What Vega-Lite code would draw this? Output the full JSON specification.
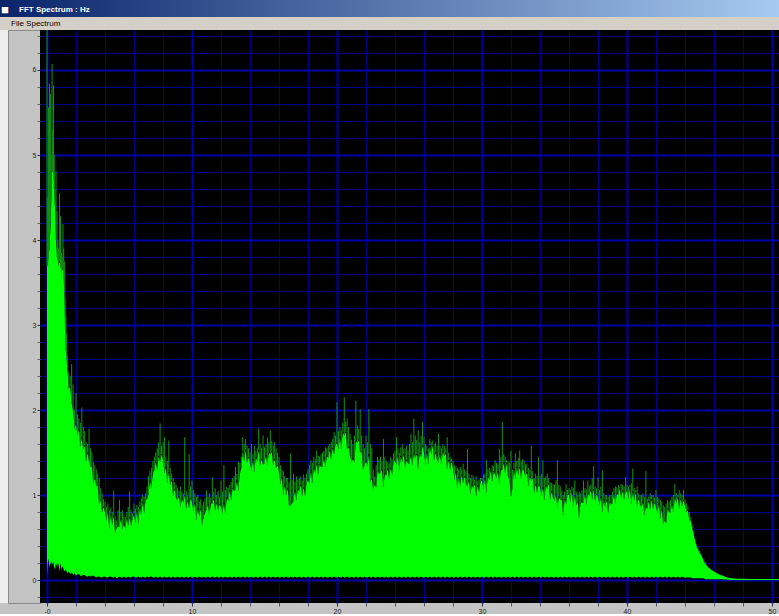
{
"$schema": "https://vega.github.io/schema/vega-lite/v6.json",
"background": "#c4c4c4",
"padding": 0,
"spacing": 0,
"bounds": "flush",
"config": {"view": {"stroke": null}, "font": "Liberation Sans"},
"vconcat": [
{
"width": 779, "height": 17,
"view": {"stroke": null, "fill": {"gradient": "linear", "x1": 0, "y1": 0, "x2": 1, "y2": 0, "stops": [{"offset": 0, "color": "#0a246a"}, {"offset": 1, "color": "#a6caf0"}]}},
"data": {"values": [{"t": "FFT Spectrum : Hz"}]},
"layer": [
{"mark": {"type": "text", "text": "■", "align": "left", "baseline": "alphabetic", "color": "#ffffff", "fontSize": 13},
"encoding": {"x": {"value": 1}, "y": {"value": 14}}},
{"mark": {"type": "text", "align": "left", "baseline": "alphabetic", "color": "#ffffff", "fontSize": 8, "fontWeight": "bold", "font": "Liberation Sans"},
"encoding": {"text": {"field": "t"}, "x": {"value": 19}, "y": {"value": 12}}}
]
},
{
"width": 779, "height": 13,
"view": {"stroke": null, "fill": "#d4d0c8"},
"data": {"values": [{"t": "File  Spectrum"}]},
"mark": {"type": "text", "align": "left", "baseline": "alphabetic", "color": "#000000", "fontSize": 8, "font": "Liberation Sans"},
"encoding": {"text": {"field": "t"}, "x": {"value": 11}, "y": {"value": 9}}
},
{
"spacing": 0,
"bounds": "flush",
"hconcat": [
{
"width": 8, "height": 573,
"view": {"stroke": null, "fill": "#eeeeee"},
"data": {"values": [{}]},
"mark": {"type": "point", "opacity": 0}
},
{
"width": 32, "height": 573,
"view": {"stroke": "#8a8a8a", "fill": "#c4c4c4"},
"data": {"values": [{}]},
"mark": {"type": "point", "opacity": 0}
},
{
"width": 739, "height": 573,
"view": {"fill": "#000000", "stroke": null},
"data": {"values": [
{"f":0,"h":7.5,"m":3.7,"l":0.05},
{"f":0.05,"h":4.5,"m":3.7,"l":0.2},
{"f":0.1,"h":5.56,"m":3.8,"l":0.25},
{"f":0.17,"h":5.84,"m":3.9,"l":0.15},
{"f":0.25,"h":5.72,"m":4.2,"l":0.2},
{"f":0.3,"h":5.0,"m":4.5,"l":0.22},
{"f":0.35,"h":6.07,"m":4.8,"l":0.18},
{"f":0.4,"h":5.3,"m":4.8,"l":0.2},
{"f":0.45,"h":5.82,"m":4.8,"l":0.22},
{"f":0.5,"h":5.0,"m":4.6,"l":0.15},
{"f":0.55,"h":4.6,"m":4.4,"l":0.12},
{"f":0.62,"h":4.81,"m":4.0,"l":0.2},
{"f":0.7,"h":4.34,"m":3.8,"l":0.15},
{"f":0.75,"h":4.0,"m":3.75,"l":0.2},
{"f":0.8,"h":3.9,"m":3.7,"l":0.18},
{"f":0.87,"h":4.55,"m":3.75,"l":0.1},
{"f":0.93,"h":4.28,"m":3.7,"l":0.2},
{"f":1.0,"h":3.85,"m":3.6,"l":0.12},
{"f":1.05,"h":3.8,"m":3.65,"l":0.15},
{"f":1.1,"h":4.19,"m":3.65,"l":0.16},
{"f":1.15,"h":3.9,"m":3.55,"l":0.12},
{"f":1.2,"h":3.75,"m":3.4,"l":0.1},
{"f":1.25,"h":3.3,"m":3.0,"l":0.12},
{"f":1.3,"h":3.1,"m":2.7,"l":0.12},
{"f":1.35,"h":2.9,"m":2.6,"l":0.1},
{"f":1.4,"h":2.64,"m":2.5,"l":0.08},
{"f":1.5,"h":2.45,"m":2.25,"l":0.1},
{"f":1.6,"h":2.4,"m":2.28,"l":0.07},
{"f":1.7,"h":2.54,"m":2.08,"l":0.09},
{"f":1.8,"h":2.3,"m":2.0,"l":0.06},
{"f":1.9,"h":2.0,"m":1.78,"l":0.08},
{"f":2.0,"h":2.2,"m":1.84,"l":0.05},
{"f":2.1,"h":1.95,"m":1.7,"l":0.07},
{"f":2.2,"h":1.9,"m":1.77,"l":0.07},
{"f":2.3,"h":1.85,"m":1.57,"l":0.05},
{"f":2.4,"h":2.03,"m":1.68,"l":0.05},
{"f":2.5,"h":1.8,"m":1.53,"l":0.06},
{"f":2.6,"h":1.75,"m":1.58,"l":0.06},
{"f":2.7,"h":1.62,"m":1.4,"l":0.04},
{"f":2.8,"h":1.6,"m":1.5,"l":0.04},
{"f":2.9,"h":1.78,"m":1.4,"l":0.05},
{"f":3.0,"h":1.55,"m":1.33,"l":0.04},
{"f":3.1,"h":1.5,"m":1.34,"l":0.05},
{"f":3.2,"h":1.39,"m":1.13,"l":0.05},
{"f":3.3,"h":1.35,"m":1.2,"l":0.04},
{"f":3.4,"h":1.3,"m":1.11,"l":0.03},
{"f":3.5,"h":1.25,"m":1.11,"l":0.04},
{"f":3.6,"h":1.2,"m":0.9,"l":0.04},
{"f":3.7,"h":1.08,"m":0.94,"l":0.03},
{"f":3.8,"h":1.02,"m":0.8,"l":0.03},
{"f":3.9,"h":0.95,"m":0.86,"l":0.04},
{"f":4.0,"h":0.92,"m":0.8,"l":0.04},
{"f":4.1,"h":0.86,"m":0.7,"l":0.03},
{"f":4.2,"h":0.9,"m":0.81,"l":0.03},
{"f":4.3,"h":0.82,"m":0.6,"l":0.04},
{"f":4.4,"h":0.85,"m":0.78,"l":0.04},
{"f":4.5,"h":0.8,"m":0.65,"l":0.03},
{"f":4.6,"h":1.05,"m":0.76,"l":0.03},
{"f":4.7,"h":0.76,"m":0.56,"l":0.04},
{"f":4.8,"h":0.7,"m":0.61,"l":0.02},
{"f":4.9,"h":0.82,"m":0.63,"l":0.03},
{"f":5.0,"h":0.94,"m":0.63,"l":0.04},
{"f":5.1,"h":0.8,"m":0.73,"l":0.03},
{"f":5.2,"h":0.82,"m":0.6,"l":0.03},
{"f":5.3,"h":0.76,"m":0.66,"l":0.04},
{"f":5.4,"h":0.74,"m":0.61,"l":0.03},
{"f":5.5,"h":0.8,"m":0.73,"l":0.03},
{"f":5.6,"h":0.86,"m":0.64,"l":0.04},
{"f":5.7,"h":1.04,"m":0.74,"l":0.03},
{"f":5.8,"h":0.82,"m":0.64,"l":0.03},
{"f":5.9,"h":0.78,"m":0.72,"l":0.04},
{"f":6.0,"h":0.9,"m":0.77,"l":0.04},
{"f":6.1,"h":0.84,"m":0.67,"l":0.03},
{"f":6.2,"h":0.88,"m":0.82,"l":0.03},
{"f":6.3,"h":0.86,"m":0.66,"l":0.04},
{"f":6.4,"h":0.92,"m":0.86,"l":0.03},
{"f":6.5,"h":0.96,"m":0.77,"l":0.03},
{"f":6.6,"h":1.0,"m":0.92,"l":0.04},
{"f":6.7,"h":0.98,"m":0.79,"l":0.03},
{"f":6.8,"h":1.02,"m":0.94,"l":0.03},
{"f":6.9,"h":1.1,"m":0.95,"l":0.04},
{"f":7.0,"h":1.22,"m":1.01,"l":0.03},
{"f":7.1,"h":1.28,"m":1.17,"l":0.04},
{"f":7.2,"h":1.32,"m":1.08,"l":0.04},
{"f":7.3,"h":1.4,"m":1.26,"l":0.03},
{"f":7.4,"h":1.45,"m":1.29,"l":0.03},
{"f":7.5,"h":1.5,"m":1.39,"l":0.04},
{"f":7.6,"h":1.55,"m":1.3,"l":0.03},
{"f":7.7,"h":1.62,"m":1.46,"l":0.03},
{"f":7.8,"h":1.84,"m":1.39,"l":0.04},
{"f":7.9,"h":1.58,"m":1.48,"l":0.03},
{"f":8.0,"h":1.62,"m":1.42,"l":0.03},
{"f":8.1,"h":1.68,"m":1.26,"l":0.04},
{"f":8.2,"h":1.45,"m":1.33,"l":0.03},
{"f":8.3,"h":1.4,"m":1.14,"l":0.03},
{"f":8.4,"h":1.64,"m":1.27,"l":0.04},
{"f":8.5,"h":1.32,"m":1.12,"l":0.03},
{"f":8.6,"h":1.25,"m":1.17,"l":0.03},
{"f":8.7,"h":1.2,"m":0.99,"l":0.04},
{"f":8.8,"h":1.15,"m":1.07,"l":0.03},
{"f":8.9,"h":1.12,"m":0.97,"l":0.03},
{"f":9.0,"h":1.08,"m":0.93,"l":0.04},
{"f":9.1,"h":1.05,"m":0.99,"l":0.03},
{"f":9.2,"h":1.1,"m":0.86,"l":0.03},
{"f":9.3,"h":1.04,"m":0.96,"l":0.04},
{"f":9.4,"h":1.02,"m":0.91,"l":0.03},
{"f":9.5,"h":1.68,"m":1.0,"l":0.03},
{"f":9.6,"h":1.05,"m":0.84,"l":0.04},
{"f":9.7,"h":1.0,"m":0.93,"l":0.03},
{"f":9.8,"h":1.48,"m":0.85,"l":0.03},
{"f":9.9,"h":1.1,"m":0.96,"l":0.04},
{"f":10.0,"h":1.17,"m":0.92,"l":0.03},
{"f":10.1,"h":1.06,"m":0.81,"l":0.03},
{"f":10.2,"h":1.02,"m":0.91,"l":0.04},
{"f":10.3,"h":0.98,"m":0.71,"l":0.03},
{"f":10.4,"h":1.0,"m":0.84,"l":0.03},
{"f":10.5,"h":0.92,"m":0.75,"l":0.04},
{"f":10.6,"h":0.95,"m":0.84,"l":0.03},
{"f":10.7,"h":0.88,"m":0.65,"l":0.03},
{"f":10.8,"h":0.92,"m":0.74,"l":0.04},
{"f":10.9,"h":0.96,"m":0.79,"l":0.03},
{"f":11.0,"h":1.05,"m":0.83,"l":0.03},
{"f":11.1,"h":0.98,"m":0.89,"l":0.04},
{"f":11.2,"h":1.02,"m":0.76,"l":0.03},
{"f":11.3,"h":0.97,"m":0.9,"l":0.03},
{"f":11.4,"h":1.21,"m":0.9,"l":0.04},
{"f":11.5,"h":1.04,"m":0.95,"l":0.03},
{"f":11.6,"h":1.08,"m":0.82,"l":0.03},
{"f":11.7,"h":1.0,"m":0.91,"l":0.04},
{"f":11.8,"h":1.05,"m":0.82,"l":0.03},
{"f":11.9,"h":0.98,"m":0.89,"l":0.03},
{"f":12.0,"h":1.17,"m":0.86,"l":0.04},
{"f":12.1,"h":1.04,"m":0.79,"l":0.03},
{"f":12.2,"h":1.35,"m":0.91,"l":0.03},
{"f":12.3,"h":1.06,"m":0.78,"l":0.04},
{"f":12.4,"h":1.1,"m":0.97,"l":0.03},
{"f":12.5,"h":1.08,"m":0.93,"l":0.03},
{"f":12.6,"h":1.12,"m":1.06,"l":0.04},
{"f":12.7,"h":1.15,"m":0.94,"l":0.03},
{"f":12.8,"h":1.2,"m":1.08,"l":0.03},
{"f":12.9,"h":1.22,"m":1.05,"l":0.04},
{"f":13.0,"h":1.33,"m":1.06,"l":0.03},
{"f":13.1,"h":1.25,"m":1.17,"l":0.03},
{"f":13.2,"h":1.39,"m":1.05,"l":0.04},
{"f":13.3,"h":1.38,"m":1.26,"l":0.03},
{"f":13.4,"h":1.45,"m":1.31,"l":0.03},
{"f":13.5,"h":1.68,"m":1.52,"l":0.04},
{"f":13.6,"h":1.6,"m":1.4,"l":0.03},
{"f":13.7,"h":1.66,"m":1.53,"l":0.03},
{"f":13.8,"h":1.58,"m":1.38,"l":0.04},
{"f":13.9,"h":1.55,"m":1.44,"l":0.03},
{"f":14.0,"h":1.5,"m":1.38,"l":0.03},
{"f":14.1,"h":1.6,"m":1.28,"l":0.04},
{"f":14.2,"h":1.48,"m":1.42,"l":0.03},
{"f":14.3,"h":1.58,"m":1.27,"l":0.03},
{"f":14.4,"h":1.52,"m":1.45,"l":0.04},
{"f":14.5,"h":1.55,"m":1.39,"l":0.03},
{"f":14.6,"h":1.78,"m":1.53,"l":0.03},
{"f":14.7,"h":1.6,"m":1.35,"l":0.04},
{"f":14.8,"h":1.55,"m":1.42,"l":0.03},
{"f":14.9,"h":1.7,"m":1.36,"l":0.03},
{"f":15.0,"h":1.56,"m":1.37,"l":0.04},
{"f":15.1,"h":1.6,"m":1.47,"l":0.03},
{"f":15.2,"h":1.68,"m":1.35,"l":0.03},
{"f":15.3,"h":1.62,"m":1.5,"l":0.04},
{"f":15.4,"h":1.76,"m":1.48,"l":0.03},
{"f":15.5,"h":1.64,"m":1.51,"l":0.03},
{"f":15.6,"h":1.58,"m":1.35,"l":0.04},
{"f":15.7,"h":1.62,"m":1.42,"l":0.03},
{"f":15.8,"h":1.55,"m":1.32,"l":0.03},
{"f":15.9,"h":1.5,"m":1.35,"l":0.04},
{"f":16.0,"h":1.45,"m":1.27,"l":0.03},
{"f":16.1,"h":1.35,"m":1.13,"l":0.03},
{"f":16.2,"h":1.3,"m":1.21,"l":0.04},
{"f":16.3,"h":1.28,"m":1.0,"l":0.03},
{"f":16.4,"h":1.22,"m":1.12,"l":0.03},
{"f":16.5,"h":1.2,"m":1.0,"l":0.04},
{"f":16.6,"h":1.2,"m":1.08,"l":0.03},
{"f":16.7,"h":1.15,"m":0.87,"l":0.03},
{"f":16.8,"h":1.49,"m":0.88,"l":0.04},
{"f":16.9,"h":1.18,"m":0.9,"l":0.03},
{"f":17.0,"h":1.25,"m":0.93,"l":0.03},
{"f":17.1,"h":1.16,"m":1.06,"l":0.04},
{"f":17.2,"h":1.22,"m":0.94,"l":0.03},
{"f":17.3,"h":1.18,"m":1.07,"l":0.03},
{"f":17.4,"h":1.2,"m":1.04,"l":0.04},
{"f":17.5,"h":1.22,"m":1.12,"l":0.03},
{"f":17.6,"h":1.17,"m":0.99,"l":0.03},
{"f":17.7,"h":1.24,"m":1.09,"l":0.04},
{"f":17.8,"h":1.2,"m":0.99,"l":0.03},
{"f":17.9,"h":1.25,"m":1.14,"l":0.03},
{"f":18.0,"h":1.3,"m":1.18,"l":0.04},
{"f":18.1,"h":1.35,"m":1.13,"l":0.03},
{"f":18.2,"h":1.41,"m":1.29,"l":0.03},
{"f":18.3,"h":1.38,"m":1.14,"l":0.04},
{"f":18.4,"h":1.45,"m":1.32,"l":0.03},
{"f":18.5,"h":1.42,"m":1.26,"l":0.03},
{"f":18.6,"h":1.52,"m":1.37,"l":0.04},
{"f":18.7,"h":1.46,"m":1.24,"l":0.03},
{"f":18.8,"h":1.45,"m":1.36,"l":0.03},
{"f":18.9,"h":1.48,"m":1.33,"l":0.04},
{"f":19.0,"h":1.5,"m":1.33,"l":0.03},
{"f":19.1,"h":1.52,"m":1.44,"l":0.03},
{"f":19.2,"h":1.56,"m":1.33,"l":0.04},
{"f":19.3,"h":1.55,"m":1.46,"l":0.03},
{"f":19.4,"h":1.58,"m":1.44,"l":0.03},
{"f":19.5,"h":1.6,"m":1.53,"l":0.04},
{"f":19.6,"h":1.62,"m":1.42,"l":0.03},
{"f":19.7,"h":1.66,"m":1.55,"l":0.03},
{"f":19.8,"h":1.74,"m":1.48,"l":0.04},
{"f":19.9,"h":1.7,"m":1.6,"l":0.03},
{"f":20.0,"h":2.09,"m":1.6,"l":0.03},
{"f":20.1,"h":1.75,"m":1.54,"l":0.04},
{"f":20.2,"h":1.8,"m":1.69,"l":0.03},
{"f":20.3,"h":1.76,"m":1.54,"l":0.03},
{"f":20.4,"h":1.85,"m":1.74,"l":0.04},
{"f":20.5,"h":2.15,"m":1.7,"l":0.03},
{"f":20.6,"h":1.86,"m":1.74,"l":0.03},
{"f":20.7,"h":1.9,"m":1.54,"l":0.04},
{"f":20.8,"h":1.8,"m":1.56,"l":0.03},
{"f":20.9,"h":1.72,"m":1.47,"l":0.03},
{"f":21.0,"h":1.65,"m":1.38,"l":0.04},
{"f":21.1,"h":1.6,"m":1.43,"l":0.03},
{"f":21.2,"h":1.7,"m":1.38,"l":0.03},
{"f":21.3,"h":2.11,"m":1.64,"l":0.04},
{"f":21.4,"h":1.82,"m":1.61,"l":0.03},
{"f":21.5,"h":1.78,"m":1.65,"l":0.03},
{"f":21.6,"h":2.01,"m":1.5,"l":0.04},
{"f":21.7,"h":1.7,"m":1.51,"l":0.03},
{"f":21.8,"h":1.6,"m":1.3,"l":0.03},
{"f":21.9,"h":1.55,"m":1.35,"l":0.04},
{"f":22.0,"h":1.7,"m":1.4,"l":0.03},
{"f":22.1,"h":1.62,"m":1.34,"l":0.03},
{"f":22.2,"h":2.01,"m":1.48,"l":0.04},
{"f":22.3,"h":1.6,"m":1.16,"l":0.03},
{"f":22.4,"h":1.55,"m":1.19,"l":0.03},
{"f":22.5,"h":1.3,"m":1.06,"l":0.04},
{"f":22.6,"h":1.22,"m":1.13,"l":0.03},
{"f":22.7,"h":1.35,"m":1.09,"l":0.03},
{"f":22.8,"h":1.45,"m":1.29,"l":0.04},
{"f":22.9,"h":1.42,"m":1.25,"l":0.03},
{"f":23.0,"h":1.45,"m":1.26,"l":0.03},
{"f":23.1,"h":1.4,"m":1.3,"l":0.04},
{"f":23.2,"h":1.66,"m":1.09,"l":0.03},
{"f":23.3,"h":1.45,"m":1.25,"l":0.03},
{"f":23.4,"h":1.4,"m":1.23,"l":0.04},
{"f":23.5,"h":1.38,"m":1.31,"l":0.03},
{"f":23.6,"h":1.37,"m":1.19,"l":0.03},
{"f":23.7,"h":1.44,"m":1.32,"l":0.04},
{"f":23.8,"h":1.42,"m":1.24,"l":0.03},
{"f":23.9,"h":1.49,"m":1.39,"l":0.03},
{"f":24.0,"h":1.52,"m":1.4,"l":0.04},
{"f":24.1,"h":1.68,"m":1.36,"l":0.03},
{"f":24.2,"h":1.55,"m":1.47,"l":0.03},
{"f":24.3,"h":1.5,"m":1.29,"l":0.04},
{"f":24.4,"h":1.56,"m":1.46,"l":0.03},
{"f":24.5,"h":1.6,"m":1.39,"l":0.03},
{"f":24.6,"h":1.54,"m":1.48,"l":0.04},
{"f":24.7,"h":1.55,"m":1.33,"l":0.03},
{"f":24.8,"h":1.58,"m":1.41,"l":0.03},
{"f":24.9,"h":1.52,"m":1.37,"l":0.04},
{"f":25.0,"h":1.6,"m":1.37,"l":0.03},
{"f":25.1,"h":1.72,"m":1.47,"l":0.03},
{"f":25.2,"h":1.62,"m":1.35,"l":0.04},
{"f":25.3,"h":1.9,"m":1.49,"l":0.03},
{"f":25.4,"h":1.7,"m":1.43,"l":0.03},
{"f":25.5,"h":1.65,"m":1.48,"l":0.04},
{"f":25.6,"h":1.76,"m":1.31,"l":0.03},
{"f":25.7,"h":1.62,"m":1.49,"l":0.03},
{"f":25.8,"h":1.7,"m":1.45,"l":0.04},
{"f":25.9,"h":1.86,"m":1.58,"l":0.03},
{"f":26.0,"h":1.68,"m":1.5,"l":0.03},
{"f":26.1,"h":1.6,"m":1.36,"l":0.04},
{"f":26.2,"h":1.58,"m":1.51,"l":0.03},
{"f":26.3,"h":1.55,"m":1.36,"l":0.03},
{"f":26.4,"h":1.66,"m":1.58,"l":0.04},
{"f":26.5,"h":1.62,"m":1.48,"l":0.03},
{"f":26.6,"h":1.64,"m":1.59,"l":0.03},
{"f":26.7,"h":1.6,"m":1.41,"l":0.04},
{"f":26.8,"h":1.62,"m":1.5,"l":0.03},
{"f":26.9,"h":1.58,"m":1.42,"l":0.03},
{"f":27.0,"h":1.72,"m":1.38,"l":0.04},
{"f":27.1,"h":1.58,"m":1.49,"l":0.03},
{"f":27.2,"h":1.55,"m":1.36,"l":0.03},
{"f":27.3,"h":1.6,"m":1.52,"l":0.04},
{"f":27.4,"h":1.58,"m":1.46,"l":0.03},
{"f":27.5,"h":1.55,"m":1.49,"l":0.03},
{"f":27.6,"h":1.68,"m":1.31,"l":0.04},
{"f":27.7,"h":1.5,"m":1.41,"l":0.03},
{"f":27.8,"h":1.45,"m":1.3,"l":0.03},
{"f":27.9,"h":1.43,"m":1.39,"l":0.04},
{"f":28.0,"h":1.4,"m":1.32,"l":0.03},
{"f":28.1,"h":1.35,"m":1.18,"l":0.03},
{"f":28.2,"h":1.34,"m":1.28,"l":0.04},
{"f":28.3,"h":1.32,"m":1.08,"l":0.03},
{"f":28.4,"h":1.3,"m":1.21,"l":0.03},
{"f":28.5,"h":1.33,"m":1.11,"l":0.04},
{"f":28.6,"h":1.3,"m":1.24,"l":0.03},
{"f":28.7,"h":1.37,"m":1.14,"l":0.03},
{"f":28.8,"h":1.3,"m":1.22,"l":0.04},
{"f":28.9,"h":1.28,"m":1.13,"l":0.03},
{"f":29.0,"h":1.54,"m":1.1,"l":0.03},
{"f":29.1,"h":1.25,"m":1.17,"l":0.04},
{"f":29.2,"h":1.2,"m":1.01,"l":0.03},
{"f":29.3,"h":1.24,"m":1.12,"l":0.03},
{"f":29.4,"h":1.22,"m":1.08,"l":0.04},
{"f":29.5,"h":1.18,"m":1.13,"l":0.03},
{"f":29.6,"h":1.22,"m":0.99,"l":0.03},
{"f":29.7,"h":1.16,"m":1.11,"l":0.04},
{"f":29.8,"h":1.18,"m":1.04,"l":0.03},
{"f":29.9,"h":1.2,"m":1.16,"l":0.03},
{"f":30.0,"h":1.2,"m":1.17,"l":0.04},
{"f":30.1,"h":1.24,"m":1.07,"l":0.03},
{"f":30.2,"h":1.25,"m":1.2,"l":0.03},
{"f":30.3,"h":1.41,"m":1.03,"l":0.04},
{"f":30.4,"h":1.3,"m":1.22,"l":0.03},
{"f":30.5,"h":1.32,"m":1.18,"l":0.03},
{"f":30.6,"h":1.3,"m":1.29,"l":0.04},
{"f":30.7,"h":1.35,"m":1.16,"l":0.03},
{"f":30.8,"h":1.34,"m":1.28,"l":0.03},
{"f":30.9,"h":1.41,"m":1.24,"l":0.04},
{"f":31.0,"h":1.38,"m":1.2,"l":0.03},
{"f":31.1,"h":1.36,"m":1.28,"l":0.03},
{"f":31.2,"h":1.54,"m":1.13,"l":0.04},
{"f":31.3,"h":1.45,"m":1.3,"l":0.03},
{"f":31.4,"h":1.86,"m":1.29,"l":0.03},
{"f":31.5,"h":1.48,"m":1.38,"l":0.04},
{"f":31.6,"h":1.45,"m":1.26,"l":0.03},
{"f":31.7,"h":1.41,"m":1.38,"l":0.03},
{"f":31.8,"h":1.4,"m":1.22,"l":0.04},
{"f":31.9,"h":1.38,"m":1.17,"l":0.03},
{"f":32.0,"h":1.52,"m":0.98,"l":0.03},
{"f":32.1,"h":1.3,"m":1.08,"l":0.04},
{"f":32.2,"h":1.38,"m":1.31,"l":0.03},
{"f":32.3,"h":1.49,"m":1.19,"l":0.03},
{"f":32.4,"h":1.4,"m":1.33,"l":0.04},
{"f":32.5,"h":1.44,"m":1.24,"l":0.03},
{"f":32.6,"h":1.52,"m":1.33,"l":0.03},
{"f":32.7,"h":1.4,"m":1.19,"l":0.04},
{"f":32.8,"h":1.42,"m":1.32,"l":0.03},
{"f":32.9,"h":1.41,"m":1.28,"l":0.03},
{"f":33.0,"h":1.36,"m":1.21,"l":0.04},
{"f":33.1,"h":1.37,"m":1.27,"l":0.03},
{"f":33.2,"h":1.32,"m":1.11,"l":0.03},
{"f":33.3,"h":1.3,"m":1.22,"l":0.04},
{"f":33.4,"h":1.58,"m":1.17,"l":0.03},
{"f":33.5,"h":1.28,"m":1.2,"l":0.03},
{"f":33.6,"h":1.2,"m":1.03,"l":0.04},
{"f":33.7,"h":1.25,"m":1.13,"l":0.03},
{"f":33.8,"h":1.22,"m":1.03,"l":0.03},
{"f":33.9,"h":1.45,"m":1.12,"l":0.04},
{"f":34.0,"h":1.22,"m":1.09,"l":0.03},
{"f":34.1,"h":1.25,"m":0.99,"l":0.03},
{"f":34.2,"h":1.41,"m":1.09,"l":0.04},
{"f":34.3,"h":1.2,"m":0.94,"l":0.03},
{"f":34.4,"h":1.22,"m":1.12,"l":0.03},
{"f":34.5,"h":1.25,"m":1.07,"l":0.04},
{"f":34.6,"h":1.2,"m":1.14,"l":0.03},
{"f":34.7,"h":1.15,"m":0.95,"l":0.03},
{"f":34.8,"h":1.14,"m":1.04,"l":0.04},
{"f":34.9,"h":1.13,"m":0.97,"l":0.03},
{"f":35.0,"h":1.12,"m":0.93,"l":0.03},
{"f":35.1,"h":1.18,"m":1.01,"l":0.04},
{"f":35.2,"h":1.41,"m":0.86,"l":0.03},
{"f":35.3,"h":1.12,"m":0.98,"l":0.03},
{"f":35.4,"h":1.1,"m":0.94,"l":0.04},
{"f":35.5,"h":1.05,"m":0.95,"l":0.03},
{"f":35.6,"h":1.0,"m":0.76,"l":0.03},
{"f":35.7,"h":1.04,"m":0.95,"l":0.04},
{"f":35.8,"h":1.13,"m":0.9,"l":0.03},
{"f":35.9,"h":1.06,"m":1.01,"l":0.03},
{"f":36.0,"h":1.08,"m":1.0,"l":0.04},
{"f":36.1,"h":1.06,"m":0.92,"l":0.03},
{"f":36.2,"h":1.1,"m":1.05,"l":0.03},
{"f":36.3,"h":1.08,"m":0.86,"l":0.04},
{"f":36.4,"h":1.17,"m":1.0,"l":0.03},
{"f":36.5,"h":1.04,"m":0.88,"l":0.03},
{"f":36.6,"h":1.0,"m":0.92,"l":0.04},
{"f":36.7,"h":1.04,"m":0.73,"l":0.03},
{"f":36.8,"h":1.02,"m":0.92,"l":0.03},
{"f":36.9,"h":1.06,"m":0.91,"l":0.04},
{"f":37.0,"h":1.17,"m":0.91,"l":0.03},
{"f":37.1,"h":1.08,"m":1.02,"l":0.03},
{"f":37.2,"h":1.06,"m":0.89,"l":0.04},
{"f":37.3,"h":1.17,"m":1.02,"l":0.03},
{"f":37.4,"h":1.1,"m":0.99,"l":0.03},
{"f":37.5,"h":1.12,"m":1.06,"l":0.04},
{"f":37.6,"h":1.2,"m":0.95,"l":0.03},
{"f":37.7,"h":1.34,"m":1.07,"l":0.03},
{"f":37.8,"h":1.1,"m":0.93,"l":0.04},
{"f":37.9,"h":1.08,"m":1.01,"l":0.03},
{"f":38.0,"h":1.21,"m":0.98,"l":0.03},
{"f":38.1,"h":1.06,"m":0.88,"l":0.04},
{"f":38.2,"h":1.1,"m":0.98,"l":0.03},
{"f":38.3,"h":1.29,"m":0.8,"l":0.03},
{"f":38.4,"h":1.02,"m":0.95,"l":0.04},
{"f":38.5,"h":1.0,"m":0.86,"l":0.03},
{"f":38.6,"h":1.0,"m":0.94,"l":0.03},
{"f":38.7,"h":0.98,"m":0.79,"l":0.04},
{"f":38.8,"h":1.0,"m":0.92,"l":0.03},
{"f":38.9,"h":1.0,"m":0.89,"l":0.03},
{"f":39.0,"h":1.04,"m":0.9,"l":0.04},
{"f":39.1,"h":1.08,"m":1.02,"l":0.03},
{"f":39.2,"h":1.1,"m":0.9,"l":0.03},
{"f":39.3,"h":1.09,"m":1.02,"l":0.04},
{"f":39.4,"h":1.12,"m":1.0,"l":0.03},
{"f":39.5,"h":1.1,"m":1.08,"l":0.03},
{"f":39.6,"h":1.13,"m":0.96,"l":0.04},
{"f":39.7,"h":1.12,"m":1.05,"l":0.03},
{"f":39.8,"h":1.1,"m":0.95,"l":0.03},
{"f":39.9,"h":1.21,"m":1.04,"l":0.04},
{"f":40.0,"h":1.12,"m":1.04,"l":0.03},
{"f":40.1,"h":1.1,"m":0.96,"l":0.03},
{"f":40.2,"h":1.12,"m":1.09,"l":0.04},
{"f":40.3,"h":1.14,"m":0.9,"l":0.03},
{"f":40.4,"h":1.31,"m":1.04,"l":0.03},
{"f":40.5,"h":1.08,"m":0.94,"l":0.04},
{"f":40.6,"h":1.06,"m":1.03,"l":0.03},
{"f":40.7,"h":1.1,"m":0.87,"l":0.03},
{"f":40.8,"h":1.02,"m":0.96,"l":0.04},
{"f":40.9,"h":1.0,"m":0.89,"l":0.03},
{"f":41.0,"h":1.0,"m":0.85,"l":0.03},
{"f":41.1,"h":1.02,"m":0.92,"l":0.04},
{"f":41.2,"h":0.98,"m":0.76,"l":0.03},
{"f":41.3,"h":1.28,"m":0.86,"l":0.03},
{"f":41.4,"h":0.96,"m":0.84,"l":0.04},
{"f":41.5,"h":0.98,"m":0.93,"l":0.03},
{"f":41.6,"h":1.02,"m":0.83,"l":0.03},
{"f":41.7,"h":1.0,"m":0.95,"l":0.04},
{"f":41.8,"h":1.0,"m":0.84,"l":0.03},
{"f":41.9,"h":0.97,"m":0.91,"l":0.03},
{"f":42.0,"h":1.06,"m":0.86,"l":0.04},
{"f":42.1,"h":0.98,"m":0.79,"l":0.03},
{"f":42.2,"h":0.96,"m":0.9,"l":0.03},
{"f":42.3,"h":0.94,"m":0.72,"l":0.04},
{"f":42.4,"h":0.92,"m":0.84,"l":0.03},
{"f":42.5,"h":0.88,"m":0.66,"l":0.03},
{"f":42.6,"h":0.86,"m":0.7,"l":0.04},
{"f":42.7,"h":0.9,"m":0.67,"l":0.03},
{"f":42.8,"h":0.94,"m":0.84,"l":0.03},
{"f":42.9,"h":0.92,"m":0.8,"l":0.04},
{"f":43.0,"h":0.94,"m":0.79,"l":0.03},
{"f":43.1,"h":0.98,"m":0.9,"l":0.03},
{"f":43.2,"h":1.0,"m":0.8,"l":0.04},
{"f":43.3,"h":1.13,"m":0.98,"l":0.03},
{"f":43.4,"h":1.02,"m":0.91,"l":0.03},
{"f":43.5,"h":1.0,"m":0.97,"l":0.04},
{"f":43.6,"h":1.06,"m":0.84,"l":0.03},
{"f":43.7,"h":1.02,"m":0.96,"l":0.03},
{"f":43.8,"h":1.0,"m":0.87,"l":0.04},
{"f":43.9,"h":1.06,"m":0.94,"l":0.03},
{"f":44.0,"h":0.95,"m":0.88,"l":0.03},
{"f":44.1,"h":0.9,"m":0.8,"l":0.03},
{"f":44.2,"h":0.86,"m":0.82,"l":0.03},
{"f":44.3,"h":0.8,"m":0.7,"l":0.03},
{"f":44.4,"h":0.74,"m":0.7,"l":0.03},
{"f":44.5,"h":0.64,"m":0.61,"l":0.02},
{"f":44.6,"h":0.57,"m":0.54,"l":0.02},
{"f":44.7,"h":0.48,"m":0.46,"l":0.02},
{"f":44.8,"h":0.42,"m":0.39,"l":0.02},
{"f":44.9,"h":0.38,"m":0.36,"l":0.02},
{"f":45.0,"h":0.34,"m":0.32,"l":0.02},
{"f":45.1,"h":0.31,"m":0.3,"l":0.02},
{"f":45.2,"h":0.27,"m":0.26,"l":0.02},
{"f":45.3,"h":0.24,"m":0.22,"l":0.02},
{"f":45.4,"h":0.21,"m":0.19,"l":0.01},
{"f":45.5,"h":0.18,"m":0.17,"l":0.01},
{"f":45.6,"h":0.15,"m":0.15,"l":0.01},
{"f":45.8,"h":0.12,"m":0.12,"l":0.01},
{"f":46.0,"h":0.1,"m":0.1,"l":0.01},
{"f":46.2,"h":0.08,"m":0.08,"l":0.01},
{"f":46.45,"h":0.06,"m":0.06,"l":0.01},
{"f":46.7,"h":0.045,"m":0.045,"l":0.005},
{"f":46.9,"h":0.03,"m":0.03,"l":0.005},
{"f":47.2,"h":0.022,"m":0.022,"l":0},
{"f":47.6,"h":0.016,"m":0.016,"l":0},
{"f":48.0,"h":0.014,"m":0.014,"l":0},
{"f":48.5,"h":0.013,"m":0.013,"l":0},
{"f":49.0,"h":0.012,"m":0.012,"l":0},
{"f":49.5,"h":0.012,"m":0.012,"l":0},
{"f":50.48,"h":0.012,"m":0.012,"l":0}
]},
"encoding": {
"x": {"field": "f", "type": "quantitative",
"scale": {"domain": [-0.48276, 50.48276], "nice": false, "zero": false},
"axis": {"title": null, "domain": false, "grid": true,
"values": [0,2,4,6,8,10,12,14,16,18,20,22,24,26,28,30,32,34,36,38,40,42,44,46,48,50],
"gridColor": {"condition": {"test": "datum.value % 10 == 0", "value": "#0000a8"}, "value": "#00008a"},
"gridWidth": {"condition": {"test": "datum.value % 10 == 0", "value": 2}, "value": 1},
"tickSize": 3, "tickColor": {"condition": {"test": "datum.value % 10 == 0", "value": "#333333"}, "value": "#555555"},
"labelExpr": "datum.value == 0 ? '-0' : (datum.value % 10 == 0 ? format(datum.value, 'd') : '')",
"labelOverlap": false, "labelFontSize": 7, "labelColor": "#222222", "labelPadding": 1, "labelFont": "Liberation Sans", "labelFlush": false}},
"y": {"field": "m", "type": "quantitative",
"scale": {"domain": [-0.270588, 6.470588], "nice": false, "zero": false},
"axis": {"title": null, "domain": false, "grid": true,
"values": [-0.2,0,0.2,0.4,0.6,0.8,1,1.2,1.4,1.6,1.8,2,2.2,2.4,2.6,2.8,3,3.2,3.4,3.6,3.8,4,4.2,4.4,4.6,4.8,5,5.2,5.4,5.6,5.8,6,6.2,6.4],
"gridColor": {"condition": {"test": "abs(datum.value - round(datum.value)) < 0.01", "value": "#0000a8"}, "value": "#00008a"},
"gridWidth": {"condition": {"test": "abs(datum.value - round(datum.value)) < 0.01", "value": 2}, "value": 1},
"tickSize": 3, "tickColor": {"condition": {"test": "abs(datum.value - round(datum.value)) < 0.01", "value": "#333333"}, "value": "#666666"},
"labelExpr": "abs(datum.value - round(datum.value)) < 0.01 ? format(round(datum.value), 'd') : ''",
"labelOverlap": false, "labelFontSize": 7, "labelColor": "#222222", "labelPadding": 1, "labelFont": "Liberation Sans", "labelFlush": false}}
},
"layer": [
{"mark": {"type": "area", "color": "#00ff00", "clip": true, "interpolate": "linear"},
"encoding": {"y2": {"field": "l"}}},
{"mark": {"type": "rule", "color": "#139613", "clip": true, "strokeWidth": 1},
"encoding": {"y2": {"field": "h"}}}
]
}
]
}
]
}
